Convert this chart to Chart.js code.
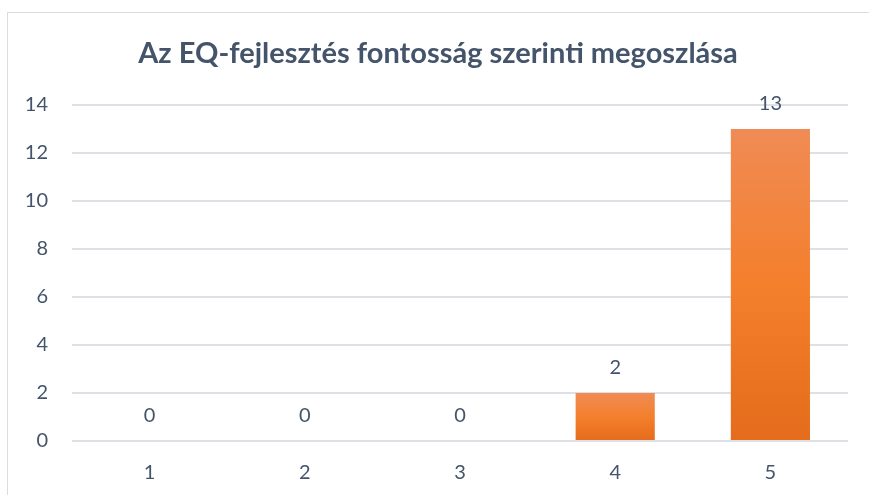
<!DOCTYPE html>
<html>
<head>
<meta charset="utf-8">
<script src="https://cdn.jsdelivr.net/npm/chart.js@4"></script>
<style>
html,body{margin:0;padding:0;background:#fff;}
#wrap{position:relative;width:869px;height:495px;}
</style>
</head>
<body>
<div id="wrap"><canvas id="c" width="869" height="495"></canvas></div>
<script>
const categories = ['1', '2', '3', '4', '5'];
const counts = [0, 0, 0, 2, 13];
const titleText = 'Az EQ-fejlesztés fontosság szerinti megoszlása';
const yTicks = [0, 2, 4, 6, 8, 10, 12, 14];

const textColor = '#44546A';
const fontFamily = 'Lato, "Open Sans", sans-serif';

function barGradient(ctx) {
  const chart = ctx.chart;
  const ys = chart.scales.y;
  if (!ys || !chart.chartArea) return '#F37F2C';
  const v = ctx.raw || 0;
  const top = ys.getPixelForValue(v);
  const bot = ys.getPixelForValue(0);
  if (!isFinite(top) || !isFinite(bot) || bot - top < 1) return '#F37F2C';
  const g = chart.ctx.createLinearGradient(0, top, 0, bot);
  g.addColorStop(0, '#F08B55');
  g.addColorStop(0.5, '#F47F2C');
  g.addColorStop(1, '#E46C1C');
  return g;
}

const framePlugin = {
  id: 'frame',
  beforeDraw(chart) {
    const c = chart.ctx;
    c.save();
    c.fillStyle = '#fff';
    c.fillRect(0, 0, chart.width, chart.height);
    c.strokeStyle = '#D9DDE3';
    c.lineWidth = 1;
    c.strokeRect(7.5, 12.5, 1000, 1000);
    c.fillStyle = textColor;
    c.font = 'bold 29px ' + fontFamily;
    c.textAlign = 'center';
    c.textBaseline = 'middle';
    c.fillText(titleText, 438, 54);
    c.restore();
  }
};

const labelPlugin = {
  id: 'valueLabels',
  afterDatasetsDraw(chart) {
    const c = chart.ctx;
    const meta = chart.getDatasetMeta(0);
    c.save();
    c.fillStyle = textColor;
    c.font = '20px ' + fontFamily;
    c.textAlign = 'center';
    c.textBaseline = 'middle';
    meta.data.forEach((bar, i) => {
      c.fillText(String(counts[i]), bar.x, bar.y - 25);
    });
    c.restore();
  }
};

new Chart(document.getElementById('c'), {
  type: 'bar',
  data: {
    labels: categories,
    datasets: [{
      data: counts,
      backgroundColor: barGradient,
      borderWidth: 0,
      barPercentage: 0.51,
      categoryPercentage: 1.0
    }]
  },
  options: {
    responsive: false,
    animation: false,
    devicePixelRatio: 1,
    layout: { padding: { left: 0, right: 21, top: 105, bottom: 0 } },
    plugins: {
      legend: { display: false },
      tooltip: { enabled: false },
      title: { display: false }
    },
    scales: {
      x: {
        grid: { display: false, drawTicks: false },
        border: { display: false },
        ticks: { color: textColor, font: { family: fontFamily, size: 20 }, padding: 20 },
        afterFit(s) { s.height = 54; }
      },
      y: {
        min: 0, max: 14,
        afterBuildTicks(s) { s.ticks = yTicks.map(v => ({ value: v })); },
        grid: { color: '#DDE1E6', lineWidth: 2, drawTicks: false },
        border: { display: false },
        ticks: { color: textColor, font: { family: fontFamily, size: 20 }, padding: 24 },
        afterFit(s) { s.width = 72; }
      }
    }
  },
  plugins: [framePlugin, labelPlugin]
});
</script>
</body>
</html>
